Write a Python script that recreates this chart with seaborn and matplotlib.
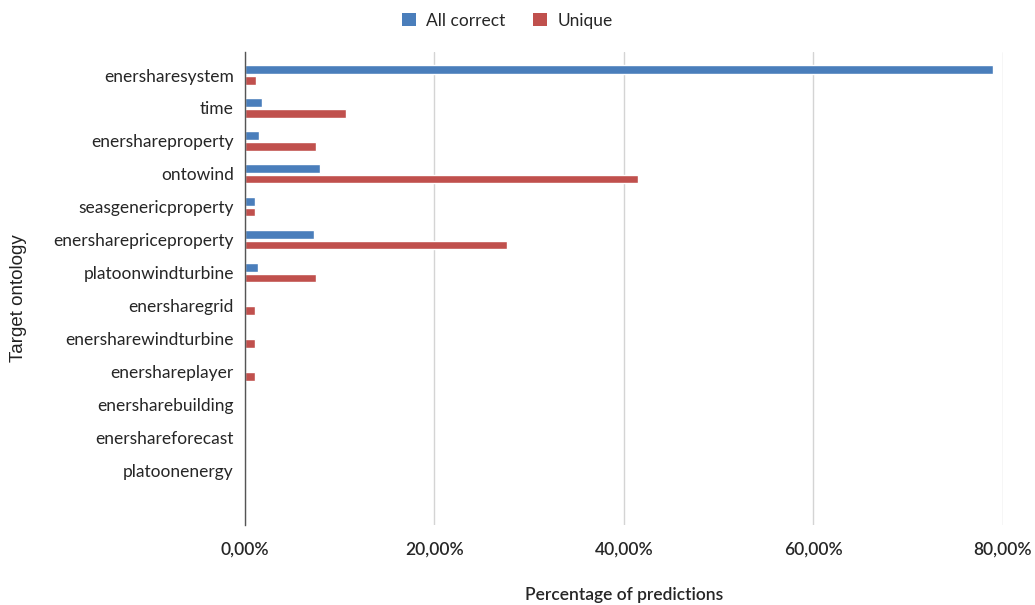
import matplotlib
matplotlib.use("Agg")
import matplotlib.pyplot as plt
from matplotlib.ticker import FuncFormatter
from matplotlib.patches import Patch
import seaborn as sns
import pandas as pd

ontologies = [
    "enersharesystem", "time", "enershareproperty", "ontowind",
    "seasgenericproperty", "enersharepriceproperty", "platoonwindturbine",
    "enersharegrid", "enersharewindturbine", "enershareplayer",
    "enersharebuilding", "enershareforecast", "platoonenergy",
]
all_correct = [79.0, 1.8, 1.5, 7.9, 1.1, 7.3, 1.4, 0.0, 0.0, 0.0, 0.0, 0.0, 0.0]
unique = [1.2, 10.7, 7.5, 41.5, 1.1, 27.7, 7.5, 1.1, 1.1, 1.1, 0.0, 0.0, 0.0]
series_names = ["All correct", "Unique"]
colors = ["#4a7ebb", "#c0504d"]
x_ticks = [0, 20, 40, 60, 80]

df = pd.concat([
    pd.DataFrame({"ontology": ontologies, "value": all_correct, "series": series_names[0]}),
    pd.DataFrame({"ontology": ontologies, "value": unique, "series": series_names[1]}),
])

sns.set_theme(style="white")
plt.rcParams["font.family"] = ["Lato", "DejaVu Sans"]

fig = plt.figure(figsize=(10.35, 6.05), dpi=100)
ax = fig.add_axes([0.2367, 0.132, 0.969 - 0.2367, 0.914 - 0.132])

sns.barplot(
    data=df, y="ontology", x="value", hue="series", orient="h",
    order=ontologies, hue_order=series_names, palette=colors,
    width=0.64, gap=0.18, saturation=1, legend=False, ax=ax,
)

ax.set_xlim(0, 80)
ax.set_ylim(13.67, -0.7)
ax.set_xticks(x_ticks)
ax.xaxis.set_major_formatter(FuncFormatter(lambda v, p: f"{v:.2f}%".replace(".", ",")))
ax.grid(axis="x", color="#d4d4d4", linewidth=1)
ax.set_axisbelow(True)
for s in ["top", "right", "bottom"]:
    ax.spines[s].set_visible(False)
ax.spines["left"].set_color("#555555")
ax.spines["left"].set_linewidth(1)
ax.tick_params(axis="both", length=0, colors="#262626")
ax.tick_params(axis="y", labelsize=12.5, pad=8)
ax.tick_params(axis="x", labelsize=12.5, pad=12)
for lbl in ax.get_xticklabels():
    lbl.set_fontweight("semibold")

ax.set_xlabel("Percentage of predictions", fontsize=12.5, color="#262626",
              fontweight="semibold", labelpad=21)
ax.set_ylabel("")
fig.text(0.018, 0.507, "Target ontology", rotation=90, ha="center", va="center",
         fontsize=13.5, color="#222222", family=["Liberation Sans", "DejaVu Sans"])

handles = [Patch(facecolor=c, edgecolor="none") for c in colors]
fig.legend(handles, series_names, loc="center", bbox_to_anchor=(0.49, 0.966),
           ncol=2, frameon=False, fontsize=12.5, handlelength=0.8, handleheight=0.8,
           handletextpad=0.6, columnspacing=1.6, labelcolor="#262626")

fig.savefig("out.png", dpi=100, facecolor="white")
